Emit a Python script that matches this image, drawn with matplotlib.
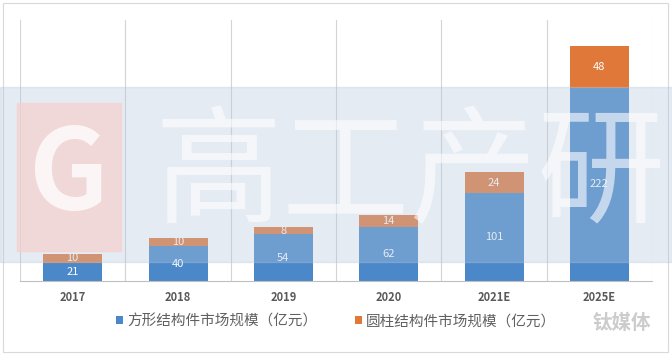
import matplotlib.pyplot as plt
import numpy as np
from matplotlib.patches import Rectangle

plt.rcParams['font.family'] = ['Noto Sans CJK SC', 'DejaVu Sans']

years = ['2017', '2018', '2019', '2020', '2021E', '2025E']
square = [21, 40, 54, 62, 101, 222]
cylinder = [10, 10, 8, 14, 24, 48]
labels = ['方形结构件市场规模（亿元）', '圆柱结构件市场规模（亿元）']

blue = '#4a88c9'
orange = '#e0783a'

fig = plt.figure(figsize=(6.72, 3.54), dpi=100)
ax = fig.add_axes([0.0298, 0.206, 0.9405, 0.7375])

x = np.arange(len(years))
b1 = ax.bar(x, square, width=0.56, color=blue, label=labels[0])
b2 = ax.bar(x, cylinder, width=0.56, bottom=square, color=orange, label=labels[1])

for i in range(len(years)):
    ax.text(x[i], square[i] / 2, str(square[i]), ha='center', va='center',
            color='white', fontsize=8, zorder=10)
    ax.text(x[i], square[i] + cylinder[i] / 2, str(cylinder[i]), ha='center',
            va='center', color='white', fontsize=8, zorder=10)

ax.set_xlim(-0.5, len(years) - 0.5)
ax.set_ylim(0, 300)
for b in np.arange(-0.5, len(years), 1):
    ax.axvline(b, color='#d4d4d4', lw=0.8, zorder=0)
for s in ['top', 'left', 'right']:
    ax.spines[s].set_visible(False)
ax.spines['bottom'].set_color('#bfbfbf')
ax.set_yticks([])
ax.set_xticks(x)
ax.set_xticklabels(years, fontsize=8, color='#595959', fontweight='bold')
ax.tick_params(axis='x', length=0, pad=7)

leg = fig.legend(handles=[b1, b2], labels=labels, loc='center',
                 bbox_to_anchor=(0.5, 0.093), ncol=2, frameon=False,
                 fontsize=10.5, handlelength=0.45, handleheight=0.45,
                 columnspacing=2.6, handletextpad=0.3)
for t in leg.get_texts():
    t.set_color('#606060')

# watermark band
fig.patches.append(Rectangle((0, 0.26), 1, 0.495, transform=fig.transFigure,
                             color='#b4c7de', alpha=0.35, zorder=5))
fig.patches.append(Rectangle((0.025, 0.29), 0.155, 0.42, transform=fig.transFigure,
                             color='#f8cfcc', alpha=0.65, zorder=6))
fig.text(0.102, 0.50, 'G', fontsize=80, color='white', alpha=0.75, ha='center',
         va='center', fontweight='bold', zorder=7)
fig.text(0.61, 0.50, '高工产研', fontsize=92, color='white', alpha=0.6,
         ha='center', va='center', zorder=7)
fig.text(0.925, 0.085, '钛媒体', fontsize=14, color='#cccccc', ha='center',
         va='center', fontweight='bold')

fig.patches.append(Rectangle((0.004, 0.006), 0.99, 0.985, transform=fig.transFigure,
                             fill=False, edgecolor='#d9d9d9', lw=0.8))

fig.savefig('out.png', dpi=100)
